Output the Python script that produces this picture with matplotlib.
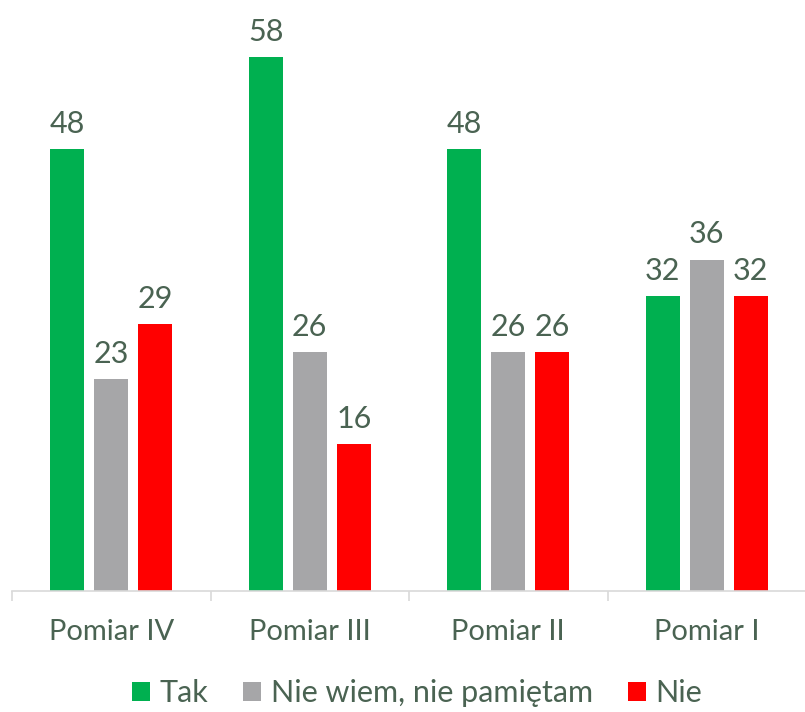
import matplotlib
matplotlib.use("Agg")
import matplotlib.pyplot as plt
from matplotlib.patches import Patch
import numpy as np

categories = ["Pomiar IV", "Pomiar III", "Pomiar II", "Pomiar I"]
series_names = ["Tak", "Nie wiem, nie pamiętam", "Nie"]
tak = [48, 58, 48, 32]
nie_wiem = [23, 26, 26, 36]
nie = [29, 16, 26, 32]

colors = ["#00b050", "#a6a6a8", "#ff0000"]
text_color = "#4a6352"

plt.rcParams["font.family"] = ["Lato", "DejaVu Sans"]

fig = plt.figure(figsize=(8.05, 7.12), dpi=100)
ax = fig.add_axes([12 / 805, 121 / 712, 794 / 805, 591 / 712])

x = np.arange(len(categories))
group_px = 198.5
width = 34 / group_px
offset = 44 / group_px

for k, (vals, col) in enumerate(zip([tak, nie_wiem, nie], colors)):
    pos = x + (k - 1) * offset
    bars = ax.bar(pos, vals, width=width, color=col, zorder=2)
    for b, v in zip(bars, vals):
        ax.annotate(str(v), (b.get_x() + b.get_width() / 2, v),
                    xytext=(0, 8), textcoords="offset points",
                    ha="center", va="bottom", fontsize=22, color=text_color)

ax.set_xlim(-0.5, len(categories) - 0.5)
ax.set_ylim(0, 64.2)

for s in ["top", "right", "left"]:
    ax.spines[s].set_visible(False)
ax.spines["bottom"].set_color("#d9d9d9")
ax.spines["bottom"].set_linewidth(1.2)
ax.set_yticks([])

# category labels centred in each group, boundary ticks between groups
ax.set_xticks(x)
ax.set_xticklabels(categories, fontsize=21, color=text_color)
ax.tick_params(axis="x", which="major", length=0, pad=20)
ax.set_xticks(np.arange(-0.5, len(categories) + 0.5, 1), minor=True)
ax.tick_params(axis="x", which="minor", length=7.5, width=1.2, color="#d9d9d9")

handles = [Patch(facecolor=c, edgecolor="none") for c in colors]
leg = ax.legend(handles, series_names, loc="center", bbox_to_anchor=(0.51, -0.173),
                ncol=3, frameon=False, fontsize=22, handlelength=0.6,
                handleheight=0.6, handletextpad=0.3, columnspacing=1.15)
for t in leg.get_texts():
    t.set_color(text_color)

fig.savefig("out.png", dpi=100)
